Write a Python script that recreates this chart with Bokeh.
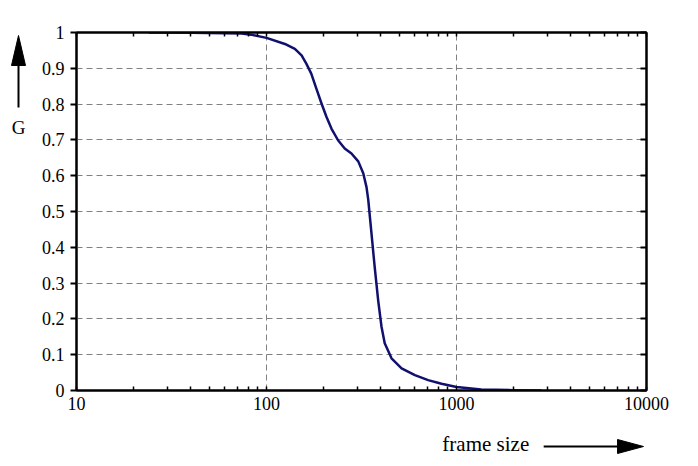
from bokeh.plotting import figure
from bokeh.layouts import row, column
from bokeh.models import LinearAxis, LogAxis, FixedTicker, LogTicker, Range1d
from bokeh.core.properties import value
from bokeh.embed import file_html
from bokeh.resources import INLINE

# curve
frame_size = [24, 40, 60, 74, 83, 100, 125, 141, 153, 162, 172, 183, 195, 207,
              220, 238, 258, 280, 304, 323, 336, 343, 357, 371, 387, 403, 419,
              455, 514, 604, 709, 834, 1000, 1350, 2000, 2800]
G = [1.0, 0.999, 0.998, 0.997, 0.994, 0.985, 0.968, 0.954, 0.936, 0.913, 0.885,
     0.843, 0.801, 0.764, 0.731, 0.699, 0.676, 0.662, 0.640, 0.607, 0.568,
     0.534, 0.438, 0.345, 0.252, 0.178, 0.132, 0.090, 0.062, 0.043, 0.029,
     0.019, 0.010, 0.003, 0.001, 0.0]

y_ticks = [0, 0.1, 0.2, 0.3, 0.4, 0.5, 0.6, 0.7, 0.8, 0.9, 1]
y_labels = {0: "0", 0.1: "0.1", 0.2: "0.2", 0.3: "0.3", 0.4: "0.4", 0.5: "0.5",
            0.6: "0.6", 0.7: "0.7", 0.8: "0.8", 0.9: "0.9", 1: "1"}
x_labels = {10: "10", 100: "100", 1000: "1000", 10000: "10000"}
y_caption = "G"
x_caption = "frame size"

font = "Liberation Serif"
W, H = 690, 458
LW = 38          # width of the left caption strip
MH = 420         # height of the main plot

# ---- main plot
p = figure(width=W - LW, height=MH, x_axis_type="log",
           x_range=Range1d(10, 10000), y_range=Range1d(0, 1),
           output_backend="svg", toolbar_location=None,
           min_border_left=37, min_border_right=44,
           min_border_top=32, min_border_bottom=30,
           x_axis_location=None, y_axis_location=None)
p.outline_line_color = "black"
p.outline_line_width = 2

bottom = LogAxis(ticker=LogTicker(num_minor_ticks=10, mantissas=[1]),
                 major_label_overrides=x_labels)
bottom.major_tick_in = 0
bottom.major_tick_out = 0
bottom.minor_tick_in = 4
bottom.minor_tick_out = 0
bottom.major_label_standoff = 6
p.add_layout(bottom, "below")

top = LogAxis(ticker=LogTicker(num_minor_ticks=10, mantissas=[1]))
top.major_tick_in = 0
top.major_tick_out = 0
top.minor_tick_in = 4
top.minor_tick_out = 0
top.major_label_text_color = None
p.add_layout(top, "above")

left = LinearAxis(ticker=FixedTicker(ticks=y_ticks), major_label_overrides=y_labels)
left.major_tick_in = 0
left.major_tick_out = 6
left.minor_tick_line_color = None
left.major_label_standoff = 6
p.add_layout(left, "left")

right = LinearAxis(ticker=FixedTicker(ticks=y_ticks))
right.major_tick_in = 6
right.major_tick_out = 0
right.minor_tick_line_color = None
right.major_label_text_color = None
p.add_layout(right, "right")

for ax in (bottom, left):
    ax.major_label_text_font = font
    ax.major_label_text_font_size = "18px"
    ax.major_label_text_color = "black"
for ax in (bottom, top, left, right):
    ax.axis_line_color = "black"
    ax.axis_line_width = 2
    ax.major_tick_line_width = 2
    ax.minor_tick_line_width = 1.5

p.xgrid.ticker = FixedTicker(ticks=[100, 1000])
p.ygrid.ticker = FixedTicker(ticks=y_ticks[1:-1])
for g in (p.xgrid, p.ygrid):
    g.grid_line_color = "#808080"
    g.grid_line_dash = "6 4"
    g.grid_line_width = 1

p.line(frame_size, G, line_color="#10106e", line_width=2.5, line_join="round")


def strip(width, height, xr, yr):
    # caption strip in pixel coordinates of the whole picture (y downward)
    f = figure(width=width, height=height, output_backend="svg",
               toolbar_location=None, min_border=0,
               x_range=Range1d(*xr), y_range=Range1d(*yr),
               x_axis_location=None, y_axis_location=None)
    f.outline_line_color = None
    f.xgrid.visible = False
    f.ygrid.visible = False
    return f


# ---- left caption: arrow up and "G"
ls = strip(LW, H, (0, LW), (H, 0))
ls.segment(x0=[18], y0=[107], x1=[18], y1=[62], line_color="black", line_width=2)
ls.patch([18, 11, 25], [35, 65, 65], fill_color="black", line_color="black")
ls.text(x=[18], y=[127], text=[y_caption], text_font=value(font),
        text_font_size="19px", text_align="center", text_baseline="middle")

# ---- bottom caption: "frame size" and arrow right
# (its frame lines up with the main plot's frame, x 75..646)
bs = strip(W - LW, H - MH, (75, 646), (H, MH))
bs.segment(x0=[543], y0=[446], x1=[619], y1=[446], line_color="black", line_width=2)
bs.patch([643, 617, 617], [446, 439, 453], fill_color="black", line_color="black")
bs.text(x=[485], y=[443], text=[x_caption], text_font=value(font),
        text_font_size="21px", text_align="center", text_baseline="middle")

layout = row(ls, column(p, bs))
open("out.html", "w").write(file_html(layout, INLINE))
